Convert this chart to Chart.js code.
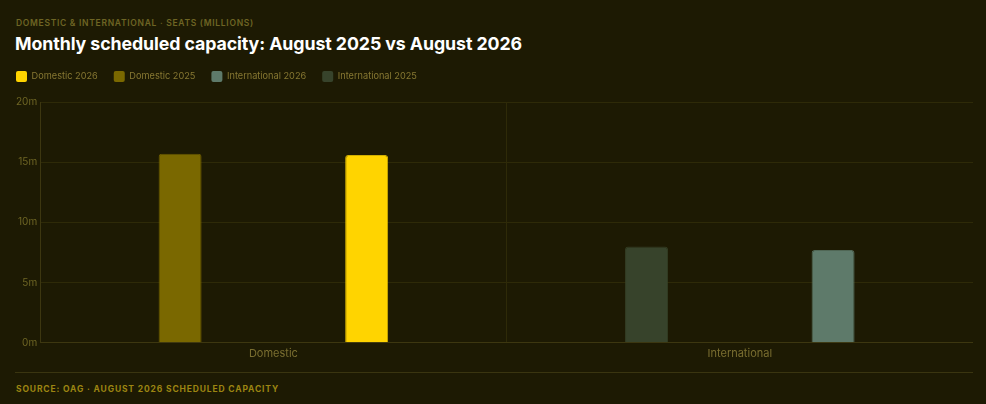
<!DOCTYPE html>
<html>
<head>
<meta charset="utf-8">
<script src="https://cdn.jsdelivr.net/npm/chart.js@4/dist/chart.umd.min.js"></script>
<style>
  html, body { margin: 0; padding: 0; background: #1d1a03; }
  body { width: 986px; height: 404px; overflow: hidden; font-family: Inter, "Noto Sans", sans-serif; }
  .eyebrow { position: absolute; left: 16px; top: 18px; font-size: 8.5px; font-weight: 600; letter-spacing: 0.7px; color: #6e6524; }
  h1 { position: absolute; left: 15px; top: 33px; margin: 0; font-size: 17.8px; font-weight: 700; color: #ffffff; letter-spacing: -0.1px; }
  .chart { position: absolute; left: 0; top: 55px; width: 973px; height: 309px; }
  .rule { position: absolute; left: 15px; top: 372px; width: 958px; height: 1px; background: #3a3510; }
  .source { position: absolute; left: 16px; top: 384px; font-size: 8.5px; font-weight: 700; letter-spacing: 0.85px; color: #9c8512; }
</style>
</head>
<body>
<div class="eyebrow">DOMESTIC &amp; INTERNATIONAL · SEATS (MILLIONS)</div>
<h1>Monthly scheduled capacity: August 2025 vs August 2026</h1>
<div class="chart"><canvas id="grafico"></canvas></div>
<div class="rule"></div>
<div class="source">SOURCE: OAG · AUGUST 2026 SCHEDULED CAPACITY</div>
<script>
const categorias = ["Domestic", "International"];
const seats2025 = [15.7, 8.0];
const seats2026 = [15.6, 7.7];
const cores2025 = ["#7a6800", "#37432b"];
const cores2026 = ["#ffd400", "#5e7a6a"];
const legendaNomes = ["Domestic 2026", "Domestic 2025", "International 2026", "International 2025"];
const legendaCores = ["#ffd400", "#7a6800", "#5e7a6a", "#37432b"];
const yTicks = [0, 5, 10, 15, 20];

const grid = "#2e2a08";
const tickCor = "#6e6524";

// empurra a area do grafico um pouco para baixo da legenda
const espacoLegenda = {
  id: "espacoLegenda",
  beforeInit(chart) {
    const fit = chart.legend.fit;
    chart.legend.fit = function () {
      fit.call(this);
      this.height += 10;
    };
  }
};

new Chart(document.getElementById("grafico"), {
  type: "bar",
  plugins: [espacoLegenda],
  data: {
    labels: categorias,
    datasets: [
      { label: "2025", data: seats2025, backgroundColor: cores2025, borderColor: cores2025.map(c => c + "cc"), borderWidth: 1, borderRadius: 3, borderSkipped: "bottom", maxBarThickness: 43 },
      { label: "2026", data: seats2026, backgroundColor: cores2026, borderColor: cores2026.map(c => c + "cc"), borderWidth: 1, borderRadius: 3, borderSkipped: "bottom", maxBarThickness: 43 }
    ]
  },
  options: {
    responsive: true,
    maintainAspectRatio: false,
    animation: false,
    plugins: {
      legend: {
        position: "top",
        align: "start",
        labels: {
          boxWidth: 11,
          boxHeight: 11,
          padding: 16,
          useBorderRadius: true,
          borderRadius: 2,
          color: "#877832",
          font: { family: "Inter", size: 9.2 },
          generateLabels: () => legendaNomes.map((n, i) => ({
            text: n, fillStyle: legendaCores[i], strokeStyle: legendaCores[i], lineWidth: 0, fontColor: "#877832", borderRadius: 2, datasetIndex: 0
          }))
        },
        onClick: () => {}
      },
      tooltip: { enabled: false }
    },
    scales: {
      x: {
        grid: { color: grid, drawTicks: false },
        border: { color: "#3d3710" },
        ticks: { color: "#7a6e30", font: { family: "Inter", size: 11 }, padding: 4 }
      },
      y: {
        min: 0, max: 20,
        afterBuildTicks: s => { s.ticks = yTicks.map(v => ({ value: v })); },
        afterFit: s => { s.width += 13; },
        grid: { color: grid, drawTicks: false },
        border: { color: "#3d3710" },
        ticks: { color: tickCor, font: { family: "Inter", size: 10 }, padding: 3, callback: v => v + "m" }
      }
    }
  }
});
</script>
</body>
</html>
